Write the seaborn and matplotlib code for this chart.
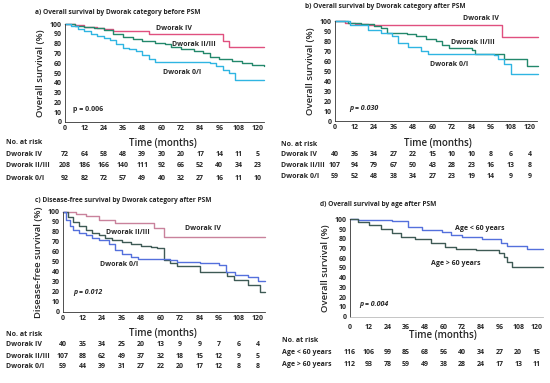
import matplotlib
matplotlib.use("Agg")
import matplotlib.pyplot as plt
import matplotlib.transforms as mtransforms
import seaborn as sns

W, H = 550, 383
months = [0, 12, 24, 36, 48, 60, 72, 84, 96, 108, 120]

# a) overall survival by Dworak category before PSM
a_iv_t = [0, 6, 12, 20, 24, 30, 52, 98, 102, 124]
a_iv_s = [100, 99, 97, 96, 95, 93, 90, 83, 77, 77]
a_23_t = [0, 6, 12, 18, 24, 30, 36, 42, 48, 56, 62, 66, 72, 80, 86, 90, 96, 104, 110, 116, 124]
a_23_s = [100, 98, 97, 96, 94, 90, 87, 85, 83, 81, 80, 77, 74, 72, 70, 66, 64, 62, 60, 58, 57]
a_01_t = [0, 4, 8, 12, 16, 20, 24, 28, 32, 36, 40, 44, 48, 52, 56, 90, 94, 98, 102, 106, 124]
a_01_s = [100, 98, 95, 93, 90, 88, 86, 84, 80, 76, 74, 72, 68, 64, 61, 60, 57, 53, 50, 43, 43]
a_risk_iv = [72, 64, 58, 48, 39, 30, 20, 17, 14, 11, 5]
a_risk_23 = [208, 186, 166, 140, 111, 92, 66, 52, 40, 34, 23]
a_risk_01 = [92, 82, 72, 57, 49, 40, 32, 27, 16, 11, 10]

# b) overall survival by Dworak category after PSM
b_iv_t = [0, 6, 12, 20, 103, 125]
b_iv_s = [100, 98, 97, 96, 84, 84]
b_23_t = [0, 8, 16, 24, 28, 32, 44, 50, 56, 62, 66, 70, 84, 86, 104, 118, 125]
b_23_s = [100, 98, 97, 95, 93, 88, 87, 85, 82, 80, 76, 73, 71, 67, 62, 55, 55]
b_01_t = [0, 9, 20, 28, 35, 39, 45, 53, 57, 98, 100, 104, 108, 125]
b_01_s = [100, 96, 91, 88, 85, 78, 74, 70, 67, 66, 62, 57, 47, 47]
b_risk_iv = [40, 36, 34, 27, 22, 15, 10, 10, 8, 6, 4]
b_risk_23 = [107, 94, 79, 67, 50, 43, 28, 23, 16, 13, 8]
b_risk_01 = [59, 52, 48, 38, 34, 27, 23, 19, 14, 9, 9]

# c) disease-free survival by Dworak category after PSM
c_iv_t = [0, 8, 14, 22, 32, 56, 62, 124]
c_iv_s = [100, 98, 96, 92, 89, 84, 75, 75]
c_23_t = [0, 3, 6, 10, 14, 18, 22, 26, 30, 36, 42, 48, 54, 58, 62, 66, 70, 84, 101, 105, 114, 121, 124]
c_23_s = [100, 95, 90, 86, 82, 79, 77, 74, 72, 70, 68, 66, 65, 64, 52, 49, 46, 40, 36, 32, 27, 20, 20]
c_01_t = [0, 2, 4, 6, 10, 14, 18, 22, 28, 32, 36, 42, 46, 66, 70, 84, 96, 100, 106, 114, 120, 124]
c_01_s = [100, 92, 86, 82, 79, 77, 74, 72, 68, 62, 58, 55, 53, 52, 50, 49, 47, 40, 37, 35, 31, 31]
c_risk_iv = [40, 35, 34, 25, 20, 13, 9, 9, 7, 6, 4]
c_risk_23 = [107, 88, 62, 49, 37, 32, 18, 15, 12, 9, 5]
c_risk_01 = [59, 44, 39, 31, 27, 22, 20, 17, 12, 8, 8]

# d) overall survival by age after PSM
d_lo_t = [0, 5, 27, 37, 46, 59, 65, 72, 85, 97, 101, 114, 124]
d_lo_s = [100, 99, 98, 92, 89, 87, 84, 82, 80, 76, 73, 69, 69]
d_hi_t = [0, 5, 12, 20, 27, 33, 42, 52, 61, 68, 81, 96, 99, 101, 104, 124]
d_hi_s = [100, 97, 94, 90, 86, 82, 80, 76, 72, 70, 68, 65, 61, 56, 51, 51]
d_risk_lo = [116, 106, 99, 85, 68, 56, 40, 34, 27, 20, 15]
d_risk_hi = [112, 93, 78, 59, 49, 38, 28, 24, 17, 13, 11]

PINK, TEAL, CYAN = "#e0507f", "#23886b", "#2fb5e2"
MAUVE, SLATE, BLUE = "#c9829c", "#3e5a55", "#5470dc"

sns.set_style("white")
plt.rcParams['font.family'] = ['Open Sans', 'DejaVu Sans']

fig = plt.figure(figsize=(W / 100, H / 100), dpi=100)

FS = 5.0  # small bold text size


def make_ax(x0, y100, x_end, y0, xmax):
    ax = fig.add_axes([x0 / W, 1 - y0 / H, (x_end - x0) / W, (y0 - y100) / H])
    ax.set_xlim(0, xmax)
    ax.set_ylim(0, 100)
    ax.set_xticks(months)
    ax.set_yticks(range(0, 101, 10))
    ax.tick_params(labelsize=FS, length=1.5, width=0.5, pad=1)
    for lab in ax.get_xticklabels() + ax.get_yticklabels():
        lab.set_fontweight("bold")
    sns.despine(ax=ax)
    for sp in ["left", "bottom"]:
        ax.spines[sp].set_linewidth(0.6)
        ax.spines[sp].set_color("#333333")
    return ax


def km(ax, t, s, color):
    sns.lineplot(x=t, y=s, ax=ax, color=color, lw=1.0, drawstyle="steps-post",
                 estimator=None, sort=False, clip_on=False)


def ftext(x_px, y_px, s, **kw):
    fig.text(x_px / W, 1 - y_px / H, s, **kw)


def risk_table(ax, x_label, rows, ys, time_xy, head_y):
    trans = mtransforms.blended_transform_factory(ax.transData, fig.transFigure)
    ftext(x_label, head_y, "No. at risk", fontsize=FS, fontweight="bold", va="center")
    ftext(time_xy[0], time_xy[1], "Time (months)", fontsize=7, fontweight="semibold",
          ha="center", va="center")
    for (name, vals), y in zip(rows, ys):
        ftext(x_label, y, name, fontsize=FS, fontweight="bold", va="center")
        for m, v in zip(months, vals):
            ax.text(m, 1 - y / H, str(v), transform=trans, ha="center", va="center",
                    fontsize=FS, fontweight="bold")


lbl = dict(fontsize=FS, fontweight="bold", ha="center", va="center")
ylab = dict(fontsize=6.8, fontweight="semibold", labelpad=3)
ttl = dict(fontsize=4.8, fontweight="bold", va="center")

# panel a
ax = make_ax(65, 24, 264.4, 122, 124)
km(ax, a_iv_t, a_iv_s, PINK)
km(ax, a_23_t, a_23_s, TEAL)
km(ax, a_01_t, a_01_s, CYAN)
ax.text(68, 95, "Dworak IV", **lbl)
ax.text(80, 79, "Dworak II/III", **lbl)
ax.text(73, 50, "Dworak 0/I", **lbl)
ax.text(5, 13, "p = 0.006", fontsize=FS, fontweight="bold", va="center")
ax.set_ylabel("Overall survival (%)", **ylab)
ftext(35, 13, "a) Overall survival by Dworak category before PSM", **ttl)
risk_table(ax, 6, [("Dworak IV", a_risk_iv), ("Dworak II/III", a_risk_23),
                   ("Dworak 0/I", a_risk_01)], [154, 166, 178], (163, 143), 143)

# panel b
ax = make_ax(335, 21, 536.5, 121, 124)
km(ax, b_iv_t, b_iv_s, PINK)
km(ax, b_23_t, b_23_s, TEAL)
km(ax, b_01_t, b_01_s, CYAN)
ax.text(90, 103, "Dworak IV", clip_on=False, **lbl)
ax.text(85, 79, "Dworak II/III", **lbl)
ax.text(70, 57, "Dworak 0/I", **lbl)
ax.text(8.6, 13, "p = 0.030", fontsize=FS, fontweight="bold", fontstyle="italic", va="center")
ax.set_ylabel("Overall survival (%)", **ylab)
ftext(305, 7, "b) Overall survival by Dworak category after PSM", **ttl)
risk_table(ax, 281, [("Dworak IV", b_risk_iv), ("Dworak II/III", b_risk_23),
                     ("Dworak 0/I", b_risk_01)], [155, 166, 177], (438, 144), 145)

# panel c
ax = make_ax(63, 212, 264.5, 312, 124)
km(ax, c_iv_t, c_iv_s, MAUVE)
km(ax, c_23_t, c_23_s, SLATE)
km(ax, c_01_t, c_01_s, BLUE)
ax.text(86, 83, "Dworak IV", **lbl)
ax.text(40, 79, "Dworak II/III", **lbl)
ax.text(34.5, 47, "Dworak 0/I", **lbl)
ax.text(6, 20, "p = 0.012", fontsize=FS, fontweight="bold", fontstyle="italic", va="center")
ax.set_ylabel("Disease-free survival (%)", **ylab)
ftext(35, 200, "c) Disease-free survival by Dworak category after PSM", **ttl)
risk_table(ax, 6, [("Dworak IV", c_risk_iv), ("Dworak II/III", c_risk_23),
                   ("Dworak 0/I", c_risk_01)], [345, 356, 367], (163, 334), 334)

# panel d
ax = make_ax(350, 219.3, 543, 316.7, 124)
km(ax, d_lo_t, d_lo_s, BLUE)
km(ax, d_hi_t, d_hi_s, SLATE)
ax.spines["bottom"].set_color("#bbbbbb")
ax.tick_params(axis="x", pad=4)
ax.text(83.5, 91, "Age < 60 years", **lbl)
ax.text(68, 55, "Age > 60 years", **lbl)
ax.text(6, 13, "p = 0.004", fontsize=FS, fontweight="bold", fontstyle="italic", va="center")
ax.set_ylabel("Overall survival (%)", **ylab)
ftext(320, 205, "d) Overall survival by age after PSM", **ttl)
risk_table(ax, 282, [("Age < 60 years", d_risk_lo), ("Age > 60 years", d_risk_hi)],
           [352, 364], (443, 336), 340)

fig.savefig("out.png", dpi=100)
